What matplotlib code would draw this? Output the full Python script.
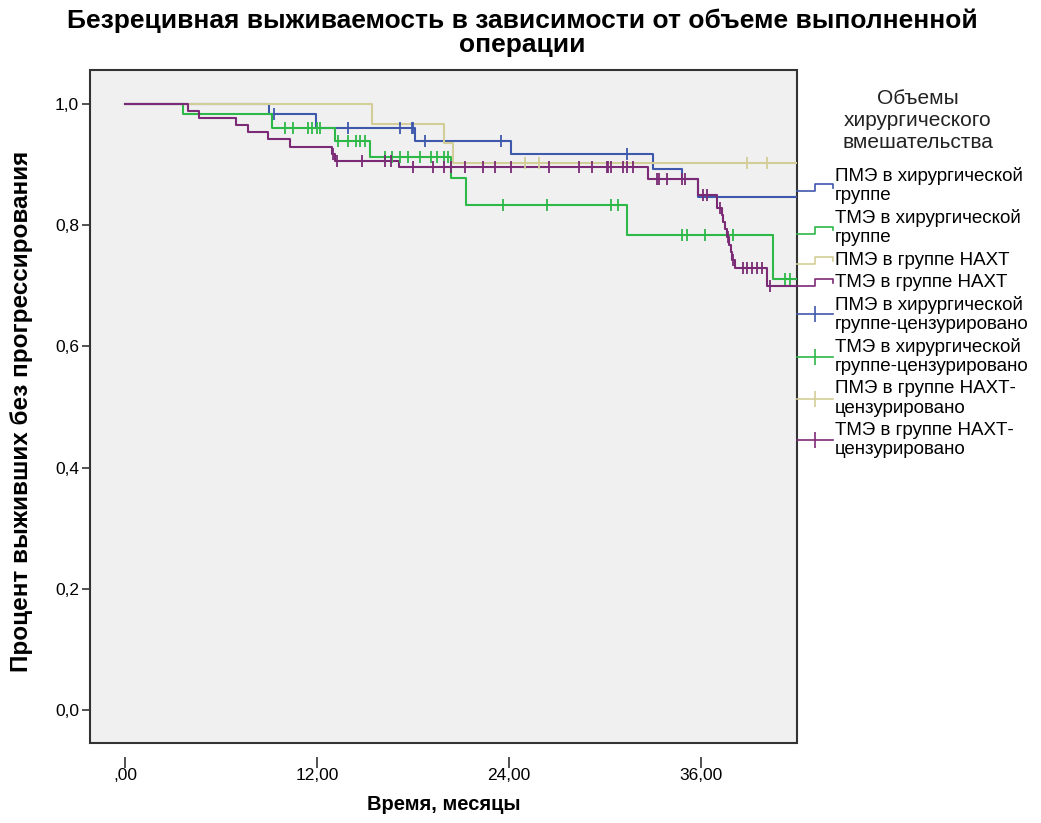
import matplotlib
matplotlib.use('Agg')
import matplotlib.pyplot as plt
import numpy as np
from matplotlib.legend_handler import HandlerBase
from matplotlib.lines import Line2D

plt.rcParams['font.family'] = ['Liberation Sans', 'DejaVu Sans']

# ---------------- data ----------------
title = "Безрецивная выживаемость в зависимости от объеме выполненной\nоперации"
x_label = "Время, месяцы"
y_label = "Процент выживших без прогрессирования"
legend_title = "Объемы\nхирургического\nвмешательства"

x_ticks = [0, 12, 24, 36]
x_ticklabels = [",00", "12,00", "24,00", "36,00"]
y_ticks = [0.0, 0.2, 0.4, 0.6, 0.8, 1.0]
y_ticklabels = ["0,0", "0,2", "0,4", "0,6", "0,8", "1,0"]

group_names = ["ПМЭ в хирургической\nгруппе",
               "ТМЭ в хирургической\nгруппе",
               "ПМЭ в группе НАХТ",
               "ТМЭ в группе НАХТ"]
censor_names = ["ПМЭ в хирургической\nгруппе-цензурировано",
                "ТМЭ в хирургической\nгруппе-цензурировано",
                "ПМЭ в группе НАХТ-\nцензурировано",
                "ТМЭ в группе НАХТ-\nцензурировано"]

follow_up_end = [42.0, 42.0, 42.0, 42.0]

# ПМЭ в хирургической группе
pme_surg_t = [0, 9.0, 11.9, 18.1, 24.1, 33.0, 34.8, 35.8]
pme_surg_s = [1.0, 0.983, 0.960, 0.939, 0.917, 0.893, 0.876, 0.847]
pme_surg_c = [9.3, 13.9, 17.2, 17.9, 18.0, 18.75, 23.5, 31.4]

# ТМЭ в хирургической группе
tme_surg_t = [0, 3.6, 9.2, 13.1, 15.3, 20.4, 21.3, 31.4, 40.5]
tme_surg_s = [1.0, 0.983, 0.960, 0.939, 0.913, 0.878, 0.833, 0.784, 0.711]
tme_surg_c = [10.0, 10.5, 11.45, 11.7, 12.0, 12.2,
              13.3, 13.9, 14.4, 14.7, 15.0,
              16.25, 16.7, 17.2, 17.7, 18.4, 19.1, 19.5, 19.9, 20.2,
              23.6, 26.4, 30.4, 30.8,
              34.8, 35.1, 36.25, 38.0,
              41.25, 41.55]

# ПМЭ в группе НАХТ
pme_naxt_t = [0, 15.4, 19.9, 20.5]
pme_naxt_s = [1.0, 0.967, 0.935, 0.903]
pme_naxt_c = [25.0, 25.9, 38.9, 40.1]

# ТМЭ в группе НАХТ
tme_naxt_t = [0, 3.9, 4.6, 6.9, 7.7, 8.9, 10.3, 12.9, 13.1, 17.1, 32.7, 35.8,
              37.0, 37.3, 37.4, 37.5, 37.6, 37.75, 37.85, 37.95, 38.1, 40.1]
tme_naxt_s = [1.0, 0.988, 0.977, 0.965, 0.954, 0.942, 0.929, 0.917, 0.906, 0.896,
              0.876, 0.850, 0.828, 0.817, 0.805, 0.793, 0.781, 0.768, 0.756,
              0.743, 0.729, 0.699]
tme_naxt_c = [13.0, 13.25, 14.8, 16.25, 16.6,
              18.0, 19.25, 19.9, 20.4, 21.25, 22.4, 23.1, 24.1, 26.5, 28.4,
              29.2, 30.1, 30.2, 30.4, 31.1, 31.4, 31.75,
              33.25, 33.4, 33.9, 34.8, 35.0,
              36.1, 36.4, 37.2, 37.7, 38.0,
              38.6, 38.9, 39.2, 39.5, 39.8, 40.3]

colors = ['#3E58AC', '#2EB848', '#D3CE97', '#7B2A75']

curves = [(pme_surg_t, pme_surg_s, pme_surg_c),
          (tme_surg_t, tme_surg_s, tme_surg_c),
          (pme_naxt_t, pme_naxt_s, pme_naxt_c),
          (tme_naxt_t, tme_naxt_s, tme_naxt_c)]

# ---------------- figure ----------------
W, H = 1041, 823
fig = plt.figure(figsize=(W / 100, H / 100), dpi=100)
fig.patch.set_facecolor('white')
ax = fig.add_axes([90 / W, 1 - 743 / H, (797 - 90) / W, (743 - 70) / H])
ax.set_facecolor('#F0F0F0')
ax.set_xlim(-2.2, 42.0)
ax.set_ylim(-0.054, 1.056)

for (t, s, c), col, end in zip(curves, colors, follow_up_end):
    t = np.asarray(t, float)
    s = np.asarray(s, float)
    tt = np.append(t, end)
    ss = np.append(s, s[-1])
    ax.step(tt, ss, where='post', color=col, lw=1.5, zorder=3)
    c = np.asarray(c, float)
    idx = np.searchsorted(t, c, side='right') - 1
    ax.plot(c, s[idx], ls='none', marker='|', ms=9, mew=1.3, color=col, zorder=4)

# frame
for sp in ax.spines.values():
    sp.set_visible(False)
ax.patch.set_edgecolor('#333333')
ax.patch.set_linewidth(1.5)

ax.set_yticks(y_ticks, labels=y_ticklabels)
ax.tick_params(axis='y', direction='out', length=6, width=1.2, labelsize=12.5,
               pad=2, color='#333333')
ax.tick_params(axis='x', bottom=False, labelbottom=False)

sec = ax.secondary_xaxis('bottom')
sec.set_xticks(x_ticks, labels=x_ticklabels)
sec.spines['bottom'].set_position(('outward', 10))
sec.spines['bottom'].set_visible(False)
sec.tick_params(direction='out', length=8, width=1.2, labelsize=12.5, pad=0,
                color='#333333')

fig.text(444 / W, 1 - 805 / H, x_label, ha='center', va='center',
         fontsize=14.5, fontweight='bold')
fig.text(22 / W, 1 - 411 / H, y_label, ha='center', va='center',
         rotation=90, fontsize=17.5, fontweight='bold')
fig.text(522 / W, 1 - 33 / H, title, ha='center', va='center',
         fontsize=19, fontweight='bold', linespacing=1.0)

# legend title
fig.text(918 / W, 1 - 120 / H, legend_title, ha='center', va='center',
         fontsize=15, linespacing=1.2, color='#222222')


# legend
class StepHandler(HandlerBase):
    def create_artists(self, legend, orig_handle, xdescent, ydescent,
                       width, height, fontsize, trans):
        x0 = -xdescent
        y0 = -ydescent
        xs = [x0, x0 + 0.5 * width, x0 + 0.5 * width, x0 + width, x0 + width]
        ys = [y0 + 0.05 * height, y0 + 0.05 * height, y0 + 0.6 * height,
              y0 + 0.6 * height, y0 + 0.3 * height]
        ln = Line2D(xs, ys, color=orig_handle.get_color(), lw=1.2,
                    transform=trans)
        return [ln]


class StepKey:
    def __init__(self, color):
        self._c = color

    def get_color(self):
        return self._c


handles = [StepKey(c) for c in colors]
handles += [Line2D([], [], color=c, lw=1.2, marker='|', ms=11, mew=1.2)
            for c in colors]
labels = group_names + censor_names

leg = fig.legend(handles, labels, loc='upper left',
                 bbox_to_anchor=(797 / W, 1 - 167 / H),
                 frameon=False, fontsize=13.5, borderpad=0, borderaxespad=0,
                 handlelength=1.9, handletextpad=0.12, labelspacing=0.27,
                 handler_map={StepKey: StepHandler()}, numpoints=1)
for t in leg.get_texts():
    t.set_linespacing(1.17)

fig.savefig('out.png', dpi=100)
